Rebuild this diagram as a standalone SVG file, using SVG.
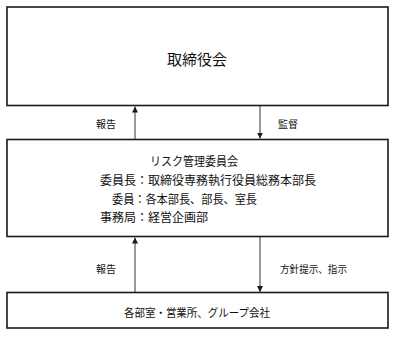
<svg xmlns="http://www.w3.org/2000/svg" width="400" height="337" viewBox="0 0 400 337">
<style>
.box{fill:#fff;stroke:#1a1a1a;stroke-width:1.6}
.con{stroke:#333;stroke-width:1;fill:none}
text{font-family:"Noto Sans CJK JP","Noto Sans CJK SC",sans-serif;fill:#111}
.t12{font-size:12px}
.lbl{font-size:10px}
</style>
<defs>
<marker id="ah" viewBox="0 0 10 10" refX="10" refY="5" markerWidth="6" markerHeight="6" orient="auto" markerUnits="userSpaceOnUse">
<path d="M0,0 L10,5 L0,10 z" fill="#1a1a1a"/>
</marker>
</defs>
<rect width="400" height="337" fill="#fff"/>
<g id="board">
<rect class="box" x="7" y="7" width="381" height="98.5"/>
<text x="197" y="65" font-size="15" text-anchor="middle">取締役会</text>
</g>
<g id="committee">
<rect class="box" x="7" y="139.5" width="381" height="97"/>
<text class="t12" x="194" y="166" text-anchor="middle" textLength="88" lengthAdjust="spacingAndGlyphs">リスク管理委員会</text>
<text class="t12" x="100" y="185">委員長：取締役専務執行役員総務本部長</text>
<text class="t12" x="112" y="203.5" textLength="145" lengthAdjust="spacingAndGlyphs">委員：各本部長、部長、室長</text>
<text class="t12" x="100" y="222">事務局：経営企画部</text>
</g>
<g id="departments">
<rect class="box" x="7" y="292.5" width="381" height="35.5"/>
<text x="197" y="317" font-size="11" text-anchor="middle" textLength="146" lengthAdjust="spacingAndGlyphs">各部室・営業所、グループ会社</text>
</g>
<g id="connectors">
<line class="con" x1="135" y1="139" x2="135" y2="106.5" marker-end="url(#ah)"/>
<line class="con" x1="260" y1="106" x2="260" y2="138.5" marker-end="url(#ah)"/>
<line class="con" x1="135" y1="292" x2="135" y2="237.5" marker-end="url(#ah)"/>
<line class="con" x1="260" y1="237" x2="260" y2="292" marker-end="url(#ah)"/>
<text class="lbl" x="106" y="128" text-anchor="middle">報告</text>
<text class="lbl" x="288" y="128" text-anchor="middle">監督</text>
<text class="lbl" x="106" y="273" text-anchor="middle">報告</text>
<text class="lbl" x="280" y="273" textLength="67" lengthAdjust="spacingAndGlyphs">方針提示、指示</text>
</g>
</svg>
